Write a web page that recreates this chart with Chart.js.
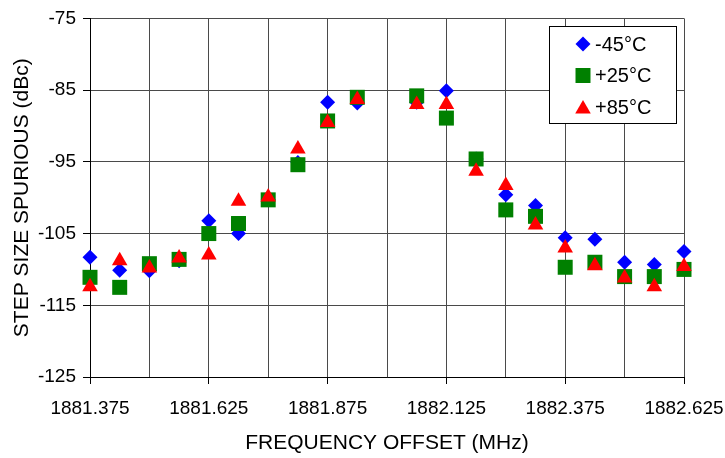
<!DOCTYPE html>
<html lang="en">
<head>
  <meta charset="UTF-8">
  <title>Step Size Spurious vs Frequency Offset</title>
  <script src="https://cdn.jsdelivr.net/npm/chart.js"></script>
  <style>
    html, body { margin: 0; padding: 0; background: #fff; }
    #wrap { width: 725px; height: 458px; }
  </style>
</head>
<body>
  <div id="wrap"><canvas id="spurChart" width="725" height="458"></canvas></div>

  <script>
    // frequency offsets (MHz), one point every 62.5 kHz; 1882.000 has no reading
    const freqs = [1881.375, 1881.4375, 1881.5, 1881.5625, 1881.625, 1881.6875, 1881.75, 1881.8125,
                   1881.875, 1881.9375, 1882.0, 1882.0625, 1882.125, 1882.1875, 1882.25, 1882.3125,
                   1882.375, 1882.4375, 1882.5, 1882.5625, 1882.625];

    // spurious level in dBc for each temperature
    const minus45 = [-108.3, -110.1, -110.2, -108.8, -103.2, -105.0, -100.3, -95.1,
                     -86.7, -86.8, null, -86.7, -85.1, -94.6, -99.6, -101.1,
                     -105.6, -105.8, -109.0, -109.3, -107.5];
    const plus25  = [-111.1, -112.5, -109.2, -108.6, -105.0, -103.6, -100.3, -95.4,
                     -89.3, -86.0, null, -85.8, -88.9, -94.6, -101.7, -102.6,
                     -109.7, -109.0, -111.0, -111.0, -110.0];
    const plus85  = [-112.4, -108.8, -109.8, -108.4, -108.0, -100.5, -99.9, -93.2,
                     -89.5, -86.3, null, -87.0, -87.0, -96.3, -98.3, -103.8,
                     -107.0, -109.5, -111.2, -112.4, -109.6];

    const xMin = 1881.375, xMax = 1882.625, xStep = 0.125;
    const yMin = -125, yMax = -75, yStep = 10;

    const fontFamily = "'Liberation Sans', Arial, Helvetica, sans-serif";
    const gridColor = '#4a4a4a';

    function toPoints(values) {
      return freqs.map((f, i) => ({ x: f, y: values[i] }));
    }

    // legend drawn inside the plot, top right, like the original
    const boxLegend = {
      id: 'boxLegend',
      afterDraw(chart) {
        const ctx = chart.ctx;
        const x0 = 549, y0 = 26, w = 127, h = 97;
        ctx.save();
        ctx.fillStyle = '#fff';
        ctx.fillRect(x0, y0, w, h);
        ctx.strokeStyle = '#000';
        ctx.lineWidth = 1;
        ctx.strokeRect(x0 + 0.5, y0 + 0.5, w, h);
        ctx.font = '20px ' + fontFamily;
        ctx.textBaseline = 'middle';
        ctx.textAlign = 'left';
        chart.data.datasets.forEach((ds, i) => {
          const cy = y0 + 18 + i * 31.5;
          ctx.fillStyle = ds.backgroundColor;
          ctx.strokeStyle = ds.borderColor;
          Chart.helpers.drawPoint(ctx, {
            pointStyle: ds.pointStyle,
            radius: ds.pointRadius,
            borderWidth: 0,
            rotation: 0
          }, 583, ds.pointStyle === 'triangle' ? cy + 2 : cy);
          ctx.fillStyle = '#000';
          ctx.fillText(ds.label, 595, cy + 1);
        });
        ctx.restore();
      }
    };

    const ctx = document.getElementById('spurChart').getContext('2d');
    const spurChart = new Chart(ctx, {
      type: 'scatter',
      data: {
        datasets: [
          {
            label: '-45°C',
            data: toPoints(minus45),
            pointStyle: 'rectRot',
            pointRadius: 7.5,
            backgroundColor: '#0000ff',
            borderColor: '#0000ff',
            borderWidth: 0,
            clip: false,
            order: 2
          },
          {
            label: '+25°C',
            data: toPoints(plus25),
            pointStyle: 'rect',
            pointRadius: 10.6,
            backgroundColor: '#008000',
            borderColor: '#008000',
            borderWidth: 0,
            clip: false,
            order: 1
          },
          {
            label: '+85°C',
            data: toPoints(plus85),
            pointStyle: 'triangle',
            pointRadius: 9,
            backgroundColor: '#ff0000',
            borderColor: '#ff0000',
            borderWidth: 0,
            clip: false,
            order: 0
          }
        ]
      },
      options: {
        responsive: false,
        animation: false,
        layout: { padding: { top: 17, right: 41, bottom: 0, left: 0 } },
        plugins: {
          legend: { display: false },
          tooltip: { enabled: false }
        },
        scales: {
          x: {
            type: 'linear',
            min: xMin,
            max: xMax,
            afterFit: s => { s.height = 81; s.paddingLeft = 0; s.paddingRight = 0; },
            ticks: {
              stepSize: xStep,
              autoSkip: false,
              maxRotation: 0,
              padding: 13,
              color: '#000',
              font: { family: fontFamily, size: 19 },
              callback: (v, i) => (i % 2 === 0 ? v.toFixed(3) : '')
            },
            grid: {
              color: ctx => (ctx.index === 0 ? '#000' : gridColor),
              tickColor: ctx => (ctx.index % 2 === 0 ? '#000' : 'rgba(0,0,0,0)'),
              tickLength: 7,
              lineWidth: 1
            },
            border: { color: '#000', width: 1 },
            title: {
              display: true,
              text: 'FREQUENCY OFFSET (MHz)',
              color: '#000',
              font: { family: fontFamily, size: 21 },
              padding: { top: 0, bottom: 2 }
            }
          },
          y: {
            min: yMin,
            max: yMax,
            afterFit: s => { s.width = 90; },
            ticks: {
              stepSize: yStep,
              padding: 7,
              color: '#000',
              font: { family: fontFamily, size: 19 }
            },
            grid: {
              color: ctx => (ctx.index === 0 ? '#000' : gridColor),
              tickColor: '#000',
              tickLength: 7,
              lineWidth: 1
            },
            border: { color: '#000', width: 1 },
            title: {
              display: true,
              text: 'STEP SIZE SPURIOUS (dBc)',
              color: '#000',
              font: { family: fontFamily, size: 21 },
              padding: { top: 10, bottom: 0 }
            }
          }
        }
      },
      plugins: [boxLegend]
    });
  </script>
</body>
</html>
